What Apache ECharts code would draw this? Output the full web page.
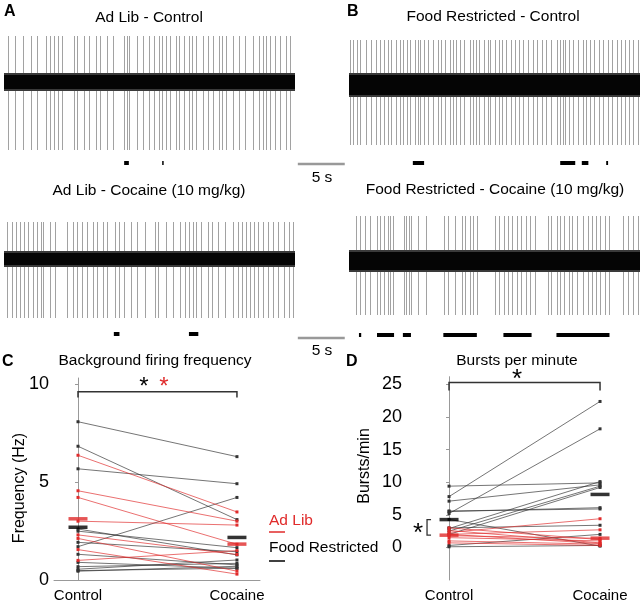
<!DOCTYPE html>
<html>
<head>
<meta charset="utf-8">
<script src="https://cdn.jsdelivr.net/npm/echarts@6/dist/echarts.min.js"></script>
<style>
html, body { margin: 0; padding: 0; background: #fff; }
#main { width: 640px; height: 603px; }
</style>
</head>
<body>
<div id="main"></div>
<script>
// spike times (s)
var spikesAdLibCtrl = [0.46, 1.17, 2.06, 2.84, 3.55, 4.43, 4.89, 5.35, 5.78, 6.13, 7.45, 7.8, 8.51, 9.08, 9.79,
    10.28, 10.99, 11.63, 12.77, 13.05, 13.33, 14.18, 14.82, 15.46, 15.96, 16.52, 16.88, 17.3, 17.73, 18.3,
    18.65, 19.15, 19.72, 20.07, 20.5, 21.21, 21.74, 22.27, 22.91, 23.26, 23.69, 24.4, 25.04, 25.64, 26.52,
    27.16, 27.59, 27.94, 28.37, 28.83, 29.36, 30.0, 30.43];
var spikesFoodCtrl = [0.14, 0.43, 0.85, 1.21, 1.84, 2.38, 2.91, 3.26, 3.69, 4.15, 4.5, 4.96, 5.39, 5.74, 6.17,
    6.52, 6.99, 7.34, 7.52, 7.98, 8.4, 8.94, 9.47, 9.82, 10.18, 10.78, 11.06, 11.42, 11.84, 12.3, 12.84,
    13.19, 13.55, 13.83, 14.33, 14.79, 15.04, 15.5, 15.96, 16.31, 16.74, 17.27, 17.73, 18.16, 18.58, 19.04,
    19.57, 20.0, 20.57, 20.99, 21.52, 22.13, 22.48, 22.77, 23.05, 23.48, 23.83, 24.36, 24.89, 25.25, 25.67,
    26.13, 26.6, 27.02, 27.55, 28.01, 28.51, 28.97, 29.43, 29.86, 30.28, 30.74];
var spikesAdLibCoc = [0.35, 0.82, 1.28, 1.7, 2.13, 2.59, 3.12, 3.55, 3.9, 4.18, 4.89, 5.43, 6.67, 7.3, 7.8,
    8.26, 8.87, 9.5, 9.93, 10.5, 10.99, 11.81, 12.27, 12.77, 13.58, 14.18, 15.0, 16.06, 16.42, 17.3, 18.01,
    18.72, 19.26, 19.72, 20.14, 20.5, 21.03, 21.74, 22.2, 22.8, 23.51, 24.4, 24.93, 25.39, 25.82, 26.17,
    26.6, 27.06, 27.59, 28.12, 28.65, 29.18, 29.79, 30.35, 30.78];
var spikesFoodCoc = [0.71, 1.13, 1.67, 2.27, 2.98, 3.33, 3.69, 4.15, 4.4, 4.68, 5.82, 6.03, 6.38, 6.63, 7.34,
    8.16, 10.07, 10.53, 11.24, 12.06, 12.41, 12.84, 13.26, 13.62, 15.5, 16.03, 16.56, 16.91, 17.38, 17.87,
    18.33, 18.87, 19.29, 19.86, 21.17, 21.52, 22.13, 22.48, 22.94, 23.4, 23.76, 24.26, 24.89, 25.43, 25.89,
    26.31, 26.74, 27.3, 27.66, 29.22, 29.68, 30.21, 30.74];

// spike amplitude [up, down] and noise half-width (arbitrary units)
var ampAdLibCtrl = [46, -68], ampFoodCtrl = [45, -60], ampAdLibCoc = [37, -59], ampFoodCoc = [45, -54];
var noiseAdLibCtrl = 9, noiseFoodCtrl = 12, noiseAdLibCoc = 8, noiseFoodCoc = 11;

// detected bursts [start, end] (s)
var burstsAdLibCtrl = [[12.8, 13.3], [16.85, 17.0]];
var burstsFoodCtrl = [[6.8, 8.0], [22.5, 24.1], [24.8, 25.5], [27.4, 27.6]];
var burstsAdLibCoc = [[11.7, 12.3], [19.7, 20.7]];
var burstsFoodCoc = [[1.06, 1.3], [2.98, 4.8], [5.74, 6.6], [10.05, 13.62], [16.45, 19.45], [22.1, 27.75]];
var scaleBar = [31.3, 36.3]; // 5 s

// panel C: background firing frequency (Hz), control -> cocaine
var freqAdLibCtrl = [6.36, 4.55, 4.21, 3.0, 2.3, 2.12, 1.55, 1.0];
var freqAdLibCoc  = [3.47, 3.0, 1.82, 2.8, 1.3, 0.45, 0.3, 1.5];
var freqFoodCtrl  = [8.07, 6.82, 5.67, 1.7, 2.49, 1.92, 1.31, 0.9, 0.68, 0.48, 2.6, 0.55, 0.45];
var freqFoodCoc   = [6.29, 3.08, 4.91, 4.21, 1.65, 1.44, 0.77, 0.6, 0.85, 0.6, 1.28, 1.02, 0.7];
var freqMeanAdLib = [3.12, 1.83];
var freqMeanFood  = [2.69, 2.17];

// panel D: bursts per minute
var burstAdLibCtrl = [2.3, 2.0, 1.5, 3.0, 1.0, 0.7, 2.6, 2.0, 1.8];
var burstAdLibCoc  = [4.4, 2.7, 1.0, 1.2, 0.5, 0.3, 0.7, 0.6, 1.4];
var burstFoodCtrl  = [7.8, 5.2, 9.4, 7.1, 2.9, 2.5, 2.0, 5.6, 5.5, 4.3, 3.0, 0.3, 0.1];
var burstFoodCoc   = [22.4, 18.2, 9.9, 9.6, 10.1, 9.4, 9.2, 5.9, 6.1, 0.2, 3.4, 2.0, 0.3];
var burstMeanAdLib = [1.88, 1.42];
var burstMeanFood  = [4.27, 8.13];

var conditions = ['Control', 'Cocaine'];

var RED = '#e02b2b';
var FONT = 'Liberation Sans, Arial, Helvetica, sans-serif';

var myChart = echarts.init(document.getElementById('main'));

var traces = [
    {spikes: spikesAdLibCtrl, amp: ampAdLibCtrl, noise: noiseAdLibCtrl, bursts: burstsAdLibCtrl, mark: -81},
    {spikes: spikesFoodCtrl, amp: ampFoodCtrl, noise: noiseFoodCtrl, bursts: burstsFoodCtrl, mark: -78},
    {spikes: spikesAdLibCoc, amp: ampAdLibCoc, noise: noiseAdLibCoc, bursts: burstsAdLibCoc, mark: -75},
    {spikes: spikesFoodCoc, amp: ampFoodCoc, noise: noiseFoodCoc, bursts: burstsFoodCoc, mark: -74}
];

var grids = [
    {left: 4, top: 22, width: 291, height: 150},
    {left: 349, top: 25, width: 291, height: 150},
    {left: 4, top: 199, width: 291, height: 150},
    {left: 349, top: 201, width: 291, height: 150},
    {left: 54, top: 378, width: 206, height: 204},
    {left: 406, top: 376.7, width: 220, height: 205}
];

var xAxes = [], yAxes = [], series = [];

traces.forEach(function (tr, i) {
    xAxes.push({gridIndex: i, type: 'value', min: 0, max: 31, show: false});
    yAxes.push({gridIndex: i, type: 'value', min: -90, max: 60, show: false});
    // spikes
    series.push({
        type: 'custom', xAxisIndex: i, yAxisIndex: i, z: 2, silent: true,
        data: tr.spikes.map(function (t) { return [t]; }),
        renderItem: function (params, api) {
            var a = api.coord([api.value(0), tr.amp[0]]);
            var b = api.coord([api.value(0), tr.amp[1]]);
            var x = Math.round(a[0]) + 0.5;
            return {type: 'line', shape: {x1: x, y1: a[1], x2: x, y2: b[1]},
                style: {stroke: '#a2a2a2', lineWidth: 1}};
        }
    });
    // noise band: dark core with a grey fringe
    series.push({
        type: 'custom', xAxisIndex: i, yAxisIndex: i, z: 3, silent: true,
        data: [[0, 31]],
        renderItem: function (params, api) {
            var a = api.coord([api.value(0), tr.noise]);
            var b = api.coord([api.value(1), -tr.noise]);
            var w = b[0] - a[0], h = b[1] - a[1];
            return {type: 'group', children: [
                {type: 'rect', shape: {x: a[0], y: a[1], width: w, height: h}, style: {fill: '#3a3a3a'}},
                {type: 'rect', shape: {x: a[0], y: a[1] + 2, width: w, height: h - 4}, style: {fill: '#050505'}}
            ]};
        }
    });
    // burst markers
    series.push({
        type: 'custom', xAxisIndex: i, yAxisIndex: i, z: 3, silent: true,
        data: tr.bursts,
        renderItem: function (params, api) {
            var a = api.coord([api.value(0), tr.mark]);
            var b = api.coord([api.value(1), tr.mark]);
            return {type: 'rect', shape: {x: a[0], y: a[1] - 2, width: Math.max(b[0] - a[0], 1.5), height: 4},
                style: {fill: '#000'}};
        }
    });
});

// 5 s scale bars
[0, 2].forEach(function (i) {
    series.push({
        type: 'custom', xAxisIndex: i, yAxisIndex: i, clip: false, silent: true,
        data: [scaleBar],
        renderItem: function (params, api) {
            var lvl = i === 0 ? -82 : -79;
            var a = api.coord([api.value(0), lvl]);
            var b = api.coord([api.value(1), lvl]);
            return {type: 'line', shape: {x1: a[0], y1: a[1], x2: b[0], y2: b[1]},
                style: {stroke: '#999', lineWidth: 2.5}};
        }
    });
});

// panels C and D axes
var axisFont = {color: '#000', fontFamily: FONT};
xAxes.push({
    gridIndex: 4, type: 'value', min: -0.151, max: 1.145,
    axisLine: {show: true, lineStyle: {color: '#999', width: 1}},
    axisTick: {show: false}, splitLine: {show: false},
    axisLabel: Object.assign({customValues: [0, 1], fontSize: 15, margin: 8,
        formatter: function (v) { return conditions[Math.round(v)]; }}, axisFont)
});
yAxes.push({
    gridIndex: 4, type: 'value', min: 0, max: 10.3, interval: 5,
    axisLine: {show: true, lineStyle: {color: '#999', width: 1}},
    axisTick: {show: true, length: 3, lineStyle: {color: '#999'}, customValues: [0, 5, 10]},
    splitLine: {show: false},
    axisLabel: Object.assign({customValues: [0, 5, 10], fontSize: 18, margin: 5}, axisFont)
});
xAxes.push({
    gridIndex: 5, type: 'value', min: -0.285, max: 1.172,
    axisLine: {show: false}, axisTick: {show: false}, splitLine: {show: false},
    axisLabel: Object.assign({customValues: [0, 1], fontSize: 15, margin: 8,
        formatter: function (v) { return conditions[Math.round(v)]; }}, axisFont)
});
yAxes.push({
    gridIndex: 5, type: 'value', min: -5, max: 26.2, interval: 5,
    axisLine: {show: true, lineStyle: {color: '#999', width: 1}},
    axisTick: {show: true, length: 3, lineStyle: {color: '#999'}, customValues: [0, 5, 10, 15, 20, 25]},
    splitLine: {show: false},
    axisLabel: Object.assign({customValues: [0, 5, 10, 15, 20, 25], fontSize: 18, margin: 4}, axisFont)
});

function pairLines(ctrl, coc, color, axisIdx) {
    ctrl.forEach(function (v, k) {
        series.push({
            type: 'line', xAxisIndex: axisIdx, yAxisIndex: axisIdx, silent: true, z: 4,
            data: [[0, v], [1, coc[k]]],
            symbol: 'rect', symbolSize: 3, showSymbol: true,
            lineStyle: {color: color, width: 0.8, opacity: 0.85},
            itemStyle: {color: color}
        });
    });
}
function meanBars(means, color, axisIdx) {
    series.push({
        type: 'scatter', xAxisIndex: axisIdx, yAxisIndex: axisIdx, silent: true, z: 6,
        data: [[0, means[0]], [1, means[1]]],
        symbol: 'rect', symbolSize: [19, 3.5],
        itemStyle: {color: color}
    });
}
pairLines(freqFoodCtrl, freqFoodCoc, '#333', 4);
pairLines(freqAdLibCtrl, freqAdLibCoc, RED, 4);
meanBars(freqMeanFood, '#000', 4);
meanBars(freqMeanAdLib, RED, 4);
pairLines(burstFoodCtrl, burstFoodCoc, '#333', 5);
pairLines(burstAdLibCtrl, burstAdLibCoc, RED, 5);
meanBars(burstMeanFood, '#000', 5);
meanBars(burstMeanAdLib, RED, 5);

// significance brackets
function bracket(axisIdx, yTop, yFoot) {
    series.push({
        type: 'custom', xAxisIndex: axisIdx, yAxisIndex: axisIdx, clip: false, silent: true, z: 5,
        data: [[0, 1]],
        renderItem: function (params, api) {
            var p0 = api.coord([api.value(0), yFoot]), p1 = api.coord([api.value(0), yTop]);
            var p2 = api.coord([api.value(1), yTop]), p3 = api.coord([api.value(1), yFoot]);
            return {type: 'polyline', shape: {points: [p0, p1, p2, p3]},
                style: {stroke: '#333', lineWidth: 1.5, fill: null}};
        }
    });
}
bracket(4, 9.6, 9.3);
bracket(5, 25.3, 24.1);
// small bracket between the control means in D
series.push({
    type: 'custom', xAxisIndex: 5, yAxisIndex: 5, clip: false, silent: true, z: 5,
    data: [[0, burstMeanFood[0], burstMeanAdLib[0]]],
    renderItem: function (params, api) {
        var a = api.coord([api.value(0), api.value(1)]);
        var b = api.coord([api.value(0), api.value(2)]);
        var x1 = a[0] - 18, x0 = a[0] - 22;
        return {type: 'polyline', shape: {points: [[x1, a[1]], [x0, a[1]], [x0, b[1]], [x1, b[1]]]},
            style: {stroke: '#333', lineWidth: 1.3, fill: null}};
    }
});

function txt(text, x, y, size, opts) {
    return Object.assign({
        type: 'text', x: x, y: y, silent: true,
        style: {text: text, fontSize: size, fontFamily: FONT, fill: '#000',
            align: 'center', verticalAlign: 'middle'}
    }, opts || {});
}
function txtStyle(el, style) { Object.assign(el.style, style); return el; }

var graphics = [
    txtStyle(txt('A', 4, 12, 16), {fontWeight: 'bold', align: 'left'}),
    txtStyle(txt('B', 347, 12, 16), {fontWeight: 'bold', align: 'left'}),
    txtStyle(txt('C', 2, 362, 16), {fontWeight: 'bold', align: 'left'}),
    txtStyle(txt('D', 346, 362, 16), {fontWeight: 'bold', align: 'left'}),
    txt('Ad Lib - Control', 149, 18, 15.5),
    txt('Food Restricted - Control', 493, 17, 15.5),
    txt('Ad Lib - Cocaine (10 mg/kg)', 149, 191, 15.5),
    txt('Food Restricted - Cocaine (10 mg/kg)', 495, 190, 15.5),
    txt('5 s', 322, 178, 15.5),
    txt('5 s', 322, 351, 15.5),
    txt('Background firing frequency', 155, 361, 15.5),
    txt('Bursts per minute', 517, 361, 15.5),
    txt('Frequency (Hz)', 20, 488, 16, {rotation: Math.PI / 2}),
    txt('Bursts/min', 365, 466, 16, {rotation: Math.PI / 2}),
    txtStyle(txt('Ad Lib', 269, 521, 15.5), {align: 'left', fill: RED}),
    txtStyle(txt('Food Restricted', 269, 548, 15.5), {align: 'left'}),
    {type: 'line', silent: true, shape: {x1: 269, y1: 532, x2: 285, y2: 532}, style: {stroke: RED, lineWidth: 1.5}},
    {type: 'line', silent: true, shape: {x1: 269, y1: 561, x2: 285, y2: 561}, style: {stroke: '#000', lineWidth: 1.5}},
    txt('*', 144, 387, 24),
    txtStyle(txt('*', 164, 387, 24), {fill: RED}),
    txt('*', 517, 380, 26),
    txt('*', 418, 534, 26)
];

var option = {
    animation: false,
    grid: grids,
    xAxis: xAxes,
    yAxis: yAxes,
    series: series,
    graphic: graphics
};
myChart.setOption(option);
</script>
</body>
</html>
